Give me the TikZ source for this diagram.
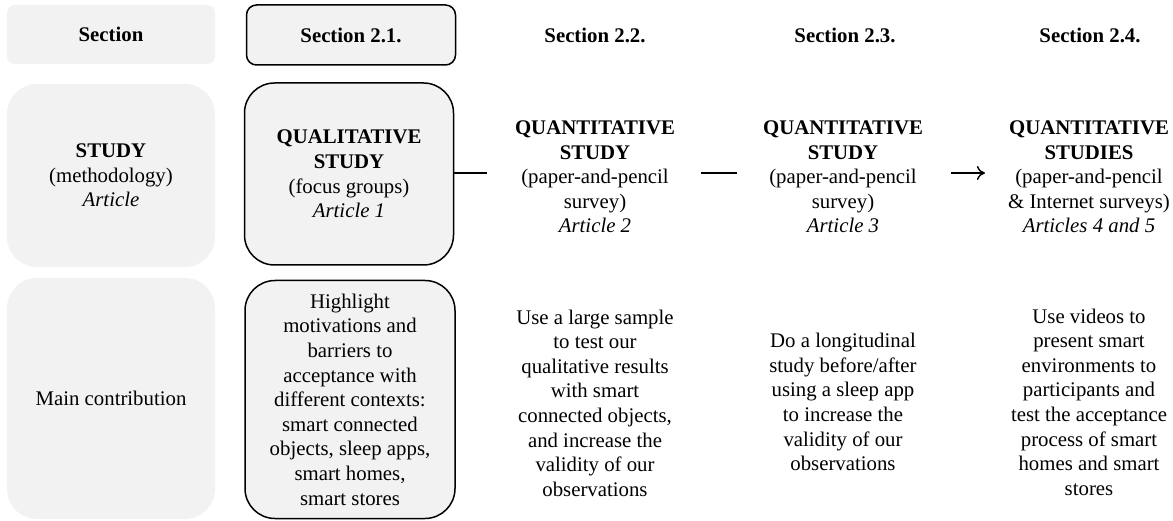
\documentclass[tikz,border=0pt]{standalone}
\usepackage{fontspec}
\setmainfont{Liberation Serif}
\usetikzlibrary{arrows.meta}
\definecolor{boxgray}{HTML}{F2F2F2}
\begin{document}
\begin{tikzpicture}[x=1pt,y=-1pt,
  every node/.style={font=\fontsize{20.8}{24.6}\selectfont, align=center, inner sep=0pt},
  labelbox/.style={fill=boxgray, rounded corners=#1},
  framebox/.style={fill=boxgray, draw=black, line width=1.5pt, rounded corners=#1},
  headtext/.style={font=\fontsize{20.8}{24.6}\selectfont\bfseries},
  link/.style={line width=1.4pt}]
\useasboundingbox (0,0) rectangle (1173,521);

% left column: row labels
\node[labelbox=8pt, minimum width=208pt, minimum height=59pt] (h0) at (111,34.5) {\textbf{Section}};
\node[labelbox=30pt, minimum width=208pt, minimum height=183pt] (s0) at (111,175.5) {\textbf{STUDY}\\(methodology)\\\textit{Article}};
\node[labelbox=30pt, minimum width=208pt, minimum height=241pt] (c0) at (111,398.5) {Main contribution};

% framed column: Section 2.1
\node[framebox=10pt, minimum width=209pt, minimum height=60pt] (h1) at (351,35) {\textbf{Section 2.1.}};
\node[framebox=30pt, minimum width=209pt, minimum height=182pt] (s1) at (349,174) {\textbf{QUALITATIVE}\\\textbf{STUDY}\\(focus groups)\\\textit{Article 1}};
\node[framebox=30pt, minimum width=210pt, minimum height=238pt] (c1) at (350,399.5) {Highlight\\motivations and\\barriers to\\acceptance with\\different contexts:\\smart connected\\objects, sleep apps,\\smart homes,\\smart stores};

% headers of the later sections
\node[headtext] (h2) at (595,35) {Section 2.2.};
\node[headtext] (h3) at (845,35) {Section 2.3.};
\node[headtext] (h4) at (1090,35) {Section 2.4.};

% studies
\node (s2) at (595,177) {\textbf{QUANTITATIVE}\\\textbf{STUDY}\\(paper-and-pencil\\survey)\\\textit{Article 2}};
\node (s3) at (843,177) {\textbf{QUANTITATIVE}\\\textbf{STUDY}\\(paper-and-pencil\\survey)\\\textit{Article 3}};
\node (s4) at (1089,177) {\textbf{QUANTITATIVE}\\\textbf{STUDIES}\\(paper-and-pencil\\\& Internet surveys)\\\textit{Articles 4 and 5}};

% contributions
\node (c2) at (595,403) {Use a large sample\\to test our\\qualitative results\\with smart\\connected objects,\\and increase the\\validity of our\\observations};
\node (c3) at (843,402) {Do a longitudinal\\study before/after\\using a sleep app\\to increase the\\validity of our\\observations};
\node (c4) at (1089,402) {Use videos to\\present smart\\environments to\\participants and\\test the acceptance\\process of smart\\homes and smart\\stores};

% links between the studies
\coordinate (lv) at (0,173);
\draw[link, shorten >=28pt] (s1.east |- lv) -- (s2.west |- lv);
\draw[link, shorten <=26pt, shorten >=26pt] (s2.east |- lv) -- (s3.west |- lv);
\draw[link, shorten <=28pt, shorten >=23pt, -{To[length=8pt,width=14pt]}] (s3.east |- lv) -- (s4.west |- lv);
\end{tikzpicture}
\end{document}
